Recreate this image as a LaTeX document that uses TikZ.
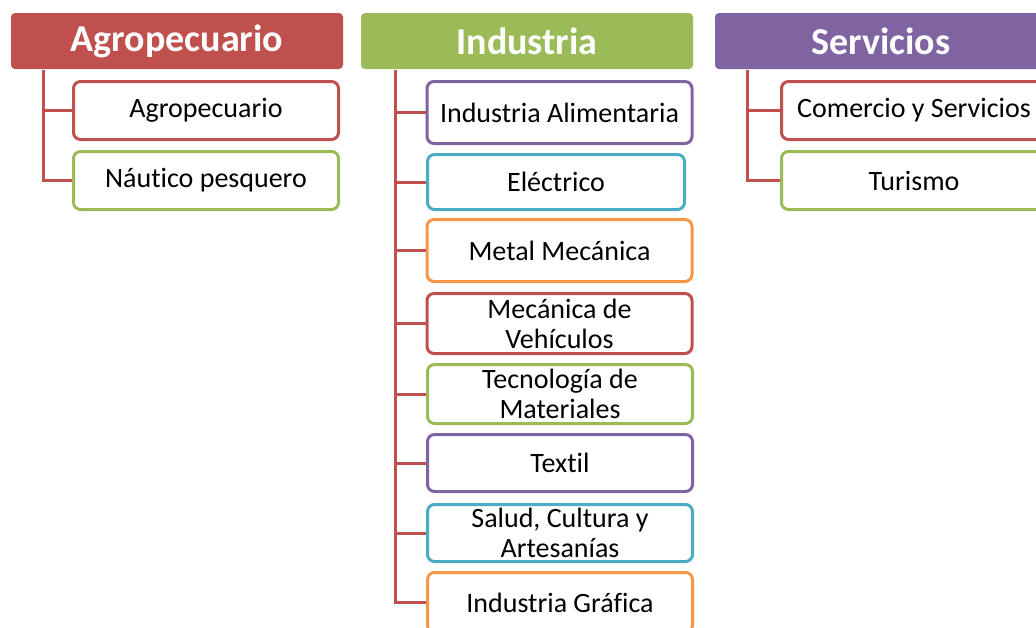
\documentclass[tikz,border=0pt]{standalone}
\usepackage{fontspec}
\setmainfont[Ligatures=NoCommon]{Carlito}
\definecolor{cred}{HTML}{C0504D}
\definecolor{cgreen}{HTML}{9BBB59}
\definecolor{cpurple}{HTML}{8064A2}
\definecolor{ccyan}{HTML}{4BACC6}
\definecolor{corange}{HTML}{F79646}
\tikzset{
  header/.style={fill=#1, draw=none, rounded corners=4pt, minimum width=332pt, minimum height=56pt,
    inner sep=0pt, text=white, font=\fontsize{38}{40}\selectfont\bfseries},
  childbox/.style={draw=#1, line width=3pt, fill=white, rounded corners=7pt, minimum width=265pt,
    inner sep=0pt, align=center, text=black, font=\fontsize{28}{30}\selectfont},
  conn/.style={draw=cred, line width=3pt}
}
\begin{document}
\begin{tikzpicture}[x=1pt,y=-1pt]
\useasboundingbox (0,0) rectangle (1036,627);
% headers
\node[header=cred] (hA) at (177,41) {Agropecuario};
\node[header=cgreen] (hI) at (527,41) {Industria};
\node[header=cpurple] (hS) at (881,41) {Servicios};
% Agropecuario children
\node[childbox=cred, minimum height=58pt] (a1) at (206,110.5) {Agropecuario};
\node[childbox=cgreen, minimum height=58pt] (a2) at (206,180.5) {Náutico pesquero};
% Industria children
\node[childbox=cpurple, minimum height=62pt] (i1) at (559.5,112.5) {Industria Alimentaria};
\node[childbox=ccyan, minimum height=55pt, minimum width=257pt] (i2) at (556,182) {Eléctrico};
\node[childbox=corange, minimum height=62pt] (i3) at (559.5,250.5) {Metal Mecánica};
\node[childbox=cred, minimum height=60pt] (i4) at (559.5,323.5) {Mecánica de\\Vehículos};
\node[childbox=cgreen, minimum height=59pt] (i5) at (560,394) {Tecnología de\\Materiales};
\node[childbox=cpurple, minimum height=57pt] (i6) at (560,463) {Textil};
\node[childbox=ccyan, minimum height=57pt] (i7) at (560,533) {Salud, Cultura y\\Artesanías};
\node[childbox=corange, minimum height=60pt] (i8) at (560,602.5) {Industria Gráfica};
% Servicios children
\node[childbox=cred, minimum height=58pt] (s1) at (914,110.5) {Comercio y Servicios};
\node[childbox=cgreen, minimum height=58pt] (s2) at (914,180.5) {Turismo};
% connectors
\coordinate (vA) at (43,70);
\coordinate (vI) at (395,70);
\coordinate (vS) at (747,70);
\draw[conn] (vA) |- (a2.west);
\draw[conn] (vA |- a1.west) -- (a1.west);
\draw[conn] (vI) |- (i8.west);
\foreach \n in {i1,i2,i3,i4,i5,i6,i7}{
  \draw[conn] (vI |- \n.west) -- (\n.west);
}
\draw[conn] (vS) |- (s2.west);
\draw[conn] (vS |- s1.west) -- (s1.west);
\end{tikzpicture}
\end{document}
